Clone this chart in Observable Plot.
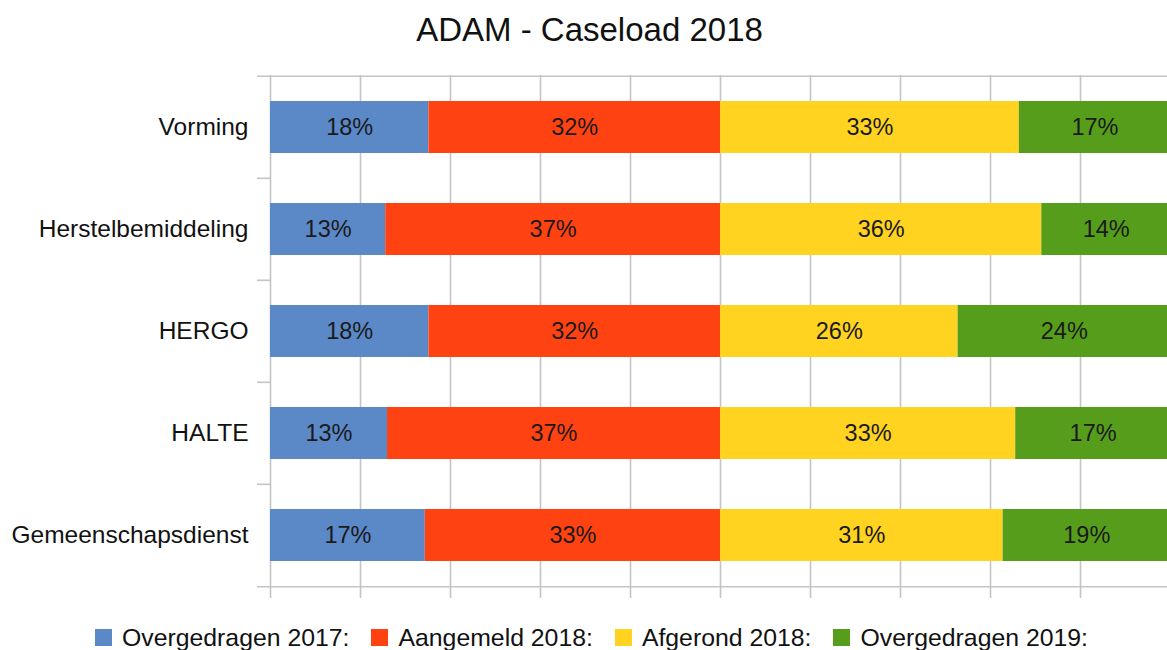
<!DOCTYPE html>
<html>
<head>
<meta charset="utf-8">
<script src="https://cdn.jsdelivr.net/npm/d3@7"></script>
<script src="https://cdn.jsdelivr.net/npm/@observablehq/plot@0.6"></script>
<style>
  html, body { margin: 0; padding: 0; background: #fff; overflow: hidden; }
  body { width: 1167px; height: 650px; font-family: "Liberation Sans", Arial, sans-serif; }
  #title { height: 60px; line-height: 60px; font-size: 33px; color: #111; text-align: center; padding-left: 12px; width: 1167px; box-sizing: border-box; }
  #chart svg { display: block; max-width: none !important; }
  #legend { display: flex; align-items: center; padding-top: 14px; padding-left: 95px; font-size: 24.8px; line-height: 27px; color: #111; white-space: nowrap; }
  .item { display: flex; align-items: center; margin-right: 22px; }
  .sw { width: 17px; height: 17px; margin-right: 10px; }
</style>
</head>
<body>
<div id="title">ADAM - Caseload 2018</div>
<div id="chart"></div>
<div id="legend"></div>
<script>
const categories = ["Vorming", "Herstelbemiddeling", "HERGO", "HALTE", "Gemeenschapsdienst"];
const series = ["Overgedragen 2017:", "Aangemeld 2018:", "Afgerond 2018:", "Overgedragen 2019:"];
const overgedragen2017 = [17.6, 12.8, 17.6, 13.0, 17.2];
const aangemeld2018   = [32.4, 37.2, 32.4, 37.0, 32.8];
const afgerond2018    = [33.2, 35.7, 26.4, 32.8, 31.4];
const overgedragen2019 = [16.8, 14.3, 23.6, 17.2, 18.6];
const colors = ["#5b88c7", "#ff4211", "#ffd320", "#579d1c"];
const xTicks = [0, 10, 20, 30, 40, 50, 60, 70, 80, 90, 100];

const seriesValues = [overgedragen2017, aangemeld2018, afgerond2018, overgedragen2019];
const data = [];
categories.forEach((c, i) => {
  series.forEach((s, j) => data.push({category: c, series: s, value: seriesValues[j][i]}));
});

const width = 1172, height = 550;
const marginTop = 15, marginBottom = 23, marginLeft = 270, marginRight = 2;
const step = (height - marginTop - marginBottom) / categories.length;
const grid = "#c4c4c4";

const chart = Plot.plot({
  width, height, marginTop, marginBottom, marginLeft, marginRight,
  style: {fontFamily: "Liberation Sans, Arial, sans-serif", fontSize: "24.5px", color: "#111", background: "#fff", maxWidth: "none"},
  x: {domain: [0, 100], axis: null},
  y: {domain: categories, paddingInner: 0.49, paddingOuter: 0.245, label: null, axis: null},
  color: {domain: series, range: colors},
  marks: [
    Plot.ruleX(xTicks, {x: d => d, stroke: grid, strokeWidth: 1.6, insetBottom: -11}),
    Plot.ruleY([categories[0]], {y: d => d, dy: -step / 2, stroke: grid, strokeWidth: 1.6, insetLeft: -13}),
    Plot.ruleY([categories[categories.length - 1]], {y: d => d, dy: step / 2, stroke: grid, strokeWidth: 1.6, insetLeft: -13}),
    Plot.ruleY(categories.slice(1), {y: d => d, dy: -step / 2, x1: 0, x2: 0, stroke: grid, strokeWidth: 1.6, insetLeft: -13}),
    Plot.barX(data, Plot.stackX({x: "value", y: "category", fill: "series"})),
    Plot.textX(data, Plot.stackX({x: "value", y: "category", z: "series", text: d => Math.round(d.value) + "%", fill: "#1a1a1a", fontSize: 23.5})),
    Plot.axisY({tickSize: 0, tickPadding: 22, fontSize: 24.5, label: null, fill: "#111"})
  ]
});
document.getElementById("chart").appendChild(chart);

const legend = document.getElementById("legend");
series.forEach((s, j) => {
  const item = document.createElement("div");
  item.className = "item";
  const sw = document.createElement("span");
  sw.className = "sw";
  sw.style.background = colors[j];
  const t = document.createElement("span");
  t.textContent = s;
  item.appendChild(sw);
  item.appendChild(t);
  legend.appendChild(item);
});
</script>
</body>
</html>
